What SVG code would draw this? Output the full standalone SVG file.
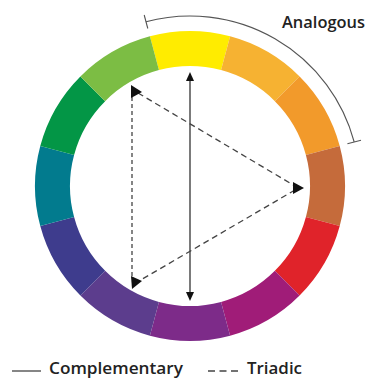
<svg xmlns="http://www.w3.org/2000/svg" width="366" height="383" viewBox="0 0 366 383">
<style>
.lbl{font-family:"Open Sans","Liberation Sans",sans-serif;font-weight:600;fill:#222;}
.tri{stroke:#444;stroke-width:1.3;fill:none;}
.head{fill:#111;}
</style>
<rect width="366" height="383" fill="#fff"/>
<g id="wheel">
<path id="seg-yellow" fill="#FFEC00" d="M149.88,36.28 A155,155 0 0 1 230.12,36.28 L221.06,70.09 A120,120 0 0 0 158.94,70.09 Z"/>
<path id="seg-yellow-orange" fill="#F6B232" d="M230.12,36.28 A155,155 0 0 1 299.60,76.40 L274.85,101.15 A120,120 0 0 0 221.06,70.09 Z"/>
<path id="seg-orange" fill="#F29A2B" d="M299.60,76.40 A155,155 0 0 1 339.72,145.88 L305.91,154.94 A120,120 0 0 0 274.85,101.15 Z"/>
<path id="seg-red-orange" fill="#C56B3B" d="M339.72,145.88 A155,155 0 0 1 339.72,226.12 L305.91,217.06 A120,120 0 0 0 305.91,154.94 Z"/>
<path id="seg-red" fill="#E0232A" d="M339.72,226.12 A155,155 0 0 1 299.60,295.60 L274.85,270.85 A120,120 0 0 0 305.91,217.06 Z"/>
<path id="seg-red-violet" fill="#A01C78" d="M299.60,295.60 A155,155 0 0 1 230.12,335.72 L221.06,301.91 A120,120 0 0 0 274.85,270.85 Z"/>
<path id="seg-violet" fill="#7D2B89" d="M230.12,335.72 A155,155 0 0 1 149.88,335.72 L158.94,301.91 A120,120 0 0 0 221.06,301.91 Z"/>
<path id="seg-blue-violet" fill="#5C3D8D" d="M149.88,335.72 A155,155 0 0 1 80.40,295.60 L105.15,270.85 A120,120 0 0 0 158.94,301.91 Z"/>
<path id="seg-blue" fill="#3E3C8D" d="M80.40,295.60 A155,155 0 0 1 40.28,226.12 L74.09,217.06 A120,120 0 0 0 105.15,270.85 Z"/>
<path id="seg-teal" fill="#027B8E" d="M40.28,226.12 A155,155 0 0 1 40.28,145.88 L74.09,154.94 A120,120 0 0 0 74.09,217.06 Z"/>
<path id="seg-green" fill="#039646" d="M40.28,145.88 A155,155 0 0 1 80.40,76.40 L105.15,101.15 A120,120 0 0 0 74.09,154.94 Z"/>
<path id="seg-yellow-green" fill="#7CBD44" d="M80.40,76.40 A155,155 0 0 1 149.88,36.28 L158.94,70.09 A120,120 0 0 0 105.15,101.15 Z"/>
</g>
<g id="connectors">
<g id="complementary">
<line x1="190" y1="79" x2="190" y2="293" stroke="#333" stroke-width="1.3"/>
<polygon class="head" points="190,72 186,81 194,81"/>
<polygon class="head" points="190,301 186,292 194,292"/>
</g>
<g id="triadic">
<line class="tri" x1="132" y1="97" x2="132" y2="277" stroke-dasharray="4,3"/>
<line class="tri" x1="138" y1="93" x2="295" y2="186" stroke-dasharray="6,4"/>
<line class="tri" x1="295" y1="190" x2="139" y2="281" stroke-dasharray="6,4"/>
<polygon class="head" points="131,85 142,92 131,98"/>
<polygon class="head" points="293,182 304,188 293,194"/>
<polygon class="head" points="131,276 142,281 132,289"/>
</g>
<g id="analogous">
<path d="M146,21.8 A170,170 0 0 1 354.2,142" fill="none" stroke="#555" stroke-width="1.1"/>
<line x1="147.8" y1="28.5" x2="144.2" y2="15" stroke="#555" stroke-width="1.1"/>
<line x1="347.4" y1="143.8" x2="361" y2="140.2" stroke="#555" stroke-width="1.1"/>
</g>
</g>
<g id="labels">
<text class="lbl" x="282" y="28" font-size="15.5" textLength="83" lengthAdjust="spacingAndGlyphs">Analogous</text>
<line x1="12" y1="371" x2="41" y2="371" stroke="#444" stroke-width="1.3"/>
<text class="lbl" x="49" y="374" font-size="16" textLength="134" lengthAdjust="spacingAndGlyphs">Complementary</text>
<line x1="208" y1="371" x2="240" y2="371" stroke="#444" stroke-width="1.3" stroke-dasharray="7,4.5"/>
<text class="lbl" x="247" y="374" font-size="16" textLength="55" lengthAdjust="spacingAndGlyphs">Triadic</text>
</g>
</svg>
